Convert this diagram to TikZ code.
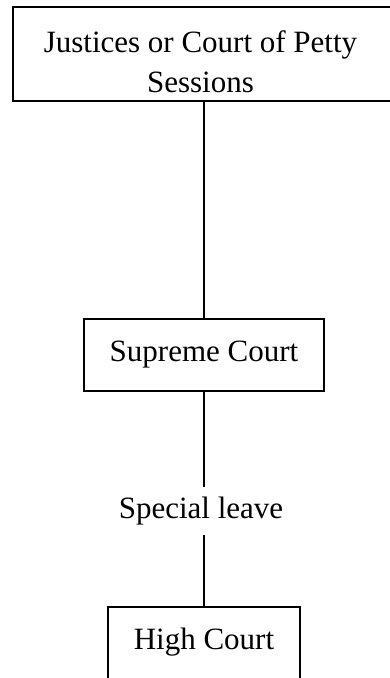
\documentclass[tikz,border=0pt]{standalone}
\usepackage{fontspec}
\setmainfont{Liberation Serif}
\begin{document}
\begin{tikzpicture}[x=1pt,y=-1pt,
  every node/.style={font=\fontsize{31}{40}\selectfont},
  box/.style={draw, line width=1.2pt, inner sep=0pt},
  conn/.style={line width=1.2pt}]
\useasboundingbox (0,0) rectangle (390,678);
% top box (right edge falls outside the picture)
\node[box, minimum width=382pt, minimum height=94pt] (topbox) at (204,54) {};
\node[align=center, anchor=base, inner sep=0pt] (toptext) at (200.5,92) {Justices or Court of Petty\\Sessions};
% supreme court
\node[box, minimum width=240pt, minimum height=72pt] (sup) at (204,355) {Supreme Court};
% high court (bottom edge falls outside the picture)
\node[box, minimum width=192pt, minimum height=74pt, text height=22pt, text depth=12pt] (high) at (204,644) {High Court};
% label
\node[inner xsep=2pt, inner ysep=9.8pt] (leave) at (201,511) {Special leave};
% connectors
\draw[conn] (topbox.south -| sup.north) -- (sup.north);
\draw[conn] (sup.south) -- (sup.south |- leave.north);
\draw[conn] (sup.south |- leave.south) -- (high.north);
\end{tikzpicture}
\end{document}
